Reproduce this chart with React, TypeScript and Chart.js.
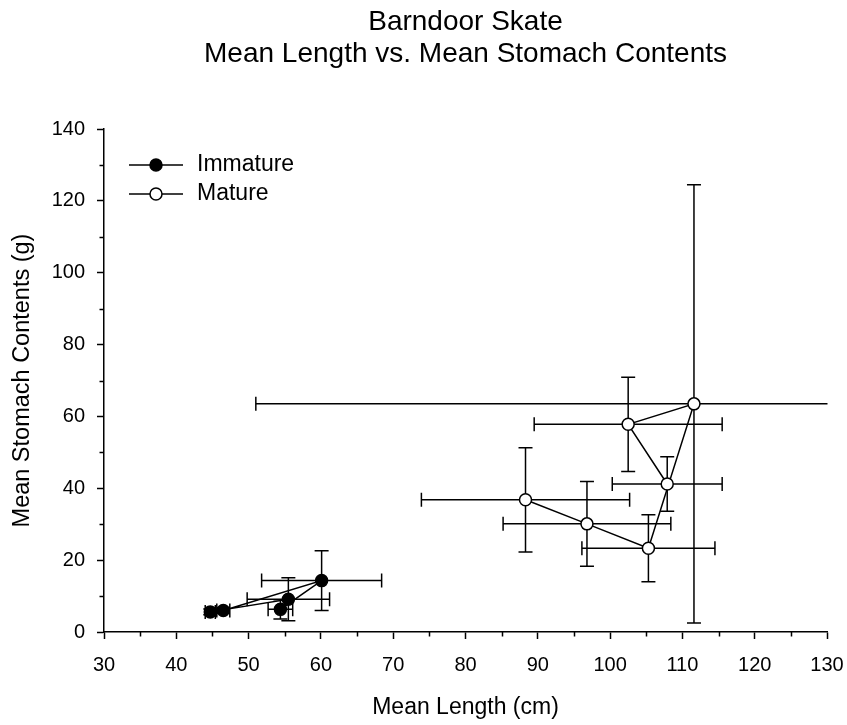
import React, { useEffect, useRef } from 'react';
import { Chart, registerables } from 'chart.js';

Chart.register(...registerables);

const FONT = '"Liberation Sans", Arial, Helvetica, sans-serif';

const titleLines = ['Barndoor Skate', 'Mean Length vs. Mean Stomach Contents'];
const xAxisTitle = 'Mean Length (cm)';
const yAxisTitle = 'Mean Stomach Contents (g)';
const seriesNames = ['Immature', 'Mature'];

const xRange = [30, 130];
const xMajorStep = 10;
const xMinorTicks = [35, 45, 55, 65, 75, 85, 95, 105, 115, 125];
const yRange = [0, 140];
const yMajorStep = 20;
const yMinorTicks = [10, 30, 50, 70, 90, 110, 130];

// Immature (drawn in connection order)
const immatureLength = [46.5, 60.1, 54.4, 55.5, 44.7];
const immatureStomach = [6.0, 14.3, 6.3, 9.1, 5.6];
const immatureLengthErr = [0.9, 8.3, 1.7, 5.7, 0.7];
const immatureStomachErr = [0.8, 8.3, 2.7, 6.0, 0.8];

// Mature (drawn in connection order)
const matureLength = [88.3, 96.8, 105.3, 111.6, 102.5, 107.9];
const matureStomach = [36.8, 30.1, 23.3, 63.5, 57.8, 41.2];
const matureLengthErr = [14.4, 11.6, 9.2, 60.6, 13.0, 7.6];
const matureStomachErr = [14.5, 11.8, 9.3, 61.0, 13.1, 7.6];

const toPoints = (xs: number[], ys: number[]) => xs.map((x, i) => ({ x, y: ys[i] }));

const errorBarsPlugin = {
  id: 'errorBars',
  beforeDatasetsDraw(chart: any) {
    const { ctx, chartArea: a, scales } = chart;
    const xs = scales.x;
    const ys = scales.y;
    ctx.save();
    ctx.beginPath();
    ctx.rect(a.left, a.top - 20, a.right - a.left + 0.5, a.bottom - a.top + 20);
    ctx.clip();
    ctx.strokeStyle = '#000';
    ctx.lineWidth = 1.5;
    const cap = 7;
    chart.data.datasets.forEach((ds: any) => {
      ds.data.forEach((p: any, i: number) => {
        const cx = xs.getPixelForValue(p.x);
        const cy = ys.getPixelForValue(p.y);
        const xl = xs.getPixelForValue(p.x - ds.xErr[i]);
        const xr = xs.getPixelForValue(p.x + ds.xErr[i]);
        const yt = ys.getPixelForValue(p.y + ds.yErr[i]);
        const yb = ys.getPixelForValue(p.y - ds.yErr[i]);
        ctx.beginPath();
        ctx.moveTo(xl, cy); ctx.lineTo(xr, cy);
        ctx.moveTo(xl, cy - cap); ctx.lineTo(xl, cy + cap);
        ctx.moveTo(xr, cy - cap); ctx.lineTo(xr, cy + cap);
        ctx.moveTo(cx, yt); ctx.lineTo(cx, yb);
        ctx.moveTo(cx - cap, yt); ctx.lineTo(cx + cap, yt);
        ctx.moveTo(cx - cap, yb); ctx.lineTo(cx + cap, yb);
        ctx.stroke();
      });
    });
    ctx.restore();
  },
};

const decorPlugin = {
  id: 'decor',
  afterDraw(chart: any) {
    const { ctx, chartArea: a, scales } = chart;
    const xs = scales.x;
    const ys = scales.y;
    ctx.save();
    // minor ticks
    ctx.strokeStyle = '#000';
    ctx.lineWidth = 1.5;
    ctx.beginPath();
    xMinorTicks.forEach((v) => {
      const px = Math.round(xs.getPixelForValue(v)) + 0.5;
      ctx.moveTo(px, a.bottom);
      ctx.lineTo(px, a.bottom + 4.5);
    });
    yMinorTicks.forEach((v) => {
      const py = Math.round(ys.getPixelForValue(v)) + 0.5;
      ctx.moveTo(a.left - 4.5, py);
      ctx.lineTo(a.left, py);
    });
    ctx.stroke();

    // title
    const cx = (a.left + a.right) / 2;
    ctx.fillStyle = '#000';
    ctx.font = `28px ${FONT}`;
    ctx.textAlign = 'center';
    ctx.textBaseline = 'alphabetic';
    ctx.fillText(titleLines[0], cx, 30);
    ctx.fillText(titleLines[1], cx, 62);

    // legend
    const fills = ['#000', '#fff'];
    ctx.font = `23px ${FONT}`;
    ctx.textAlign = 'left';
    ctx.textBaseline = 'middle';
    seriesNames.forEach((name, i) => {
      const y = a.top + 36 + i * 29;
      const x0 = a.left + 25;
      ctx.beginPath();
      ctx.moveTo(x0, y);
      ctx.lineTo(x0 + 54, y);
      ctx.lineWidth = 1.5;
      ctx.stroke();
      ctx.beginPath();
      ctx.arc(x0 + 27, y, 6, 0, Math.PI * 2);
      ctx.fillStyle = fills[i];
      ctx.fill();
      ctx.stroke();
      ctx.fillStyle = '#000';
      ctx.fillText(name, x0 + 68, y);
    });
    ctx.restore();
  },
};

export default function App() {
  const canvasRef = useRef<HTMLCanvasElement | null>(null);

  useEffect(() => {
    const canvas = canvasRef.current;
    if (!canvas) return;
    const chart = new Chart(canvas, {
      type: 'scatter',
      data: {
        datasets: [
          {
            label: seriesNames[0],
            data: toPoints(immatureLength, immatureStomach),
            xErr: immatureLengthErr,
            yErr: immatureStomachErr,
            showLine: true,
            borderColor: '#000',
            borderWidth: 1.5,
            backgroundColor: '#000',
            pointBackgroundColor: '#000',
            pointBorderColor: '#000',
            pointBorderWidth: 1.5,
            pointRadius: 6,
            tension: 0,
          } as any,
          {
            label: seriesNames[1],
            data: toPoints(matureLength, matureStomach),
            xErr: matureLengthErr,
            yErr: matureStomachErr,
            showLine: true,
            borderColor: '#000',
            borderWidth: 1.5,
            backgroundColor: '#fff',
            pointBackgroundColor: '#fff',
            pointBorderColor: '#000',
            pointBorderWidth: 1.5,
            pointRadius: 6,
            tension: 0,
          } as any,
        ],
      },
      options: {
        responsive: false,
        animation: false,
        devicePixelRatio: 1,
        layout: { padding: { top: 129, right: 20, left: 0, bottom: 0 } },
        plugins: {
          legend: { display: false },
          title: { display: false },
          tooltip: { enabled: false },
        },
        scales: {
          x: {
            type: 'linear',
            min: xRange[0],
            max: xRange[1],
            afterFit: (s: any) => {
              s.height = 93;
              s.paddingLeft = 0;
              s.paddingRight = 0;
            },
            ticks: {
              stepSize: xMajorStep,
              color: '#000',
              font: { family: FONT, size: 20 },
              padding: 14,
              maxRotation: 0,
            },
            grid: {
              display: true,
              drawOnChartArea: false,
              drawTicks: true,
              tickLength: 7,
              tickWidth: 1.5,
              tickColor: '#000',
            },
            border: { display: true, color: '#000', width: 1.5 },
            title: {
              display: true,
              text: xAxisTitle,
              color: '#000',
              font: { family: FONT, size: 23 },
              padding: { top: 0, bottom: 4 },
            },
          },
          y: {
            type: 'linear',
            min: yRange[0],
            max: yRange[1],
            afterFit: (s: any) => {
              s.width = 104;
              s.paddingTop = 0;
              s.paddingBottom = 0;
            },
            ticks: {
              stepSize: yMajorStep,
              color: '#000',
              font: { family: FONT, size: 20 },
              padding: 12,
            },
            grid: {
              display: true,
              drawOnChartArea: false,
              drawTicks: true,
              tickLength: 7,
              tickWidth: 1.5,
              tickColor: '#000',
            },
            border: { display: true, color: '#000', width: 1.5 },
            title: {
              display: true,
              text: yAxisTitle,
              color: '#000',
              font: { family: FONT, size: 23.5 },
              padding: { top: 8, bottom: 0 },
            },
          },
        },
      } as any,
      plugins: [errorBarsPlugin, decorPlugin],
    });
    return () => chart.destroy();
  }, []);

  return (
    <div style={{ position: 'absolute', left: 0, top: 0, width: 847, height: 725, background: '#fff' }}>
      <canvas ref={canvasRef} width={847} height={725} style={{ display: 'block' }} />
    </div>
  );
}
